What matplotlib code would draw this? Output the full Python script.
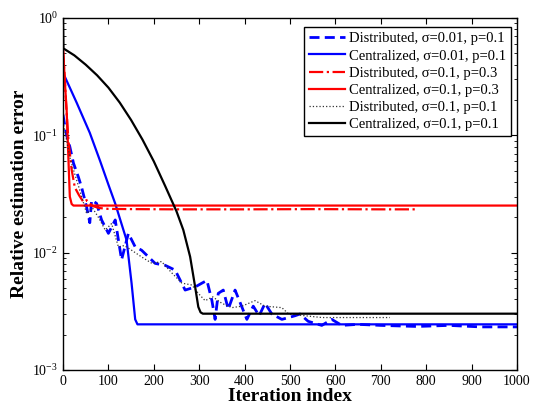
import matplotlib
matplotlib.use("Agg")
import matplotlib.pyplot as plt
from matplotlib.ticker import LogLocator, NullFormatter

plt.rcParams['font.family'] = ['Liberation Serif', 'DejaVu Serif']
plt.rcParams['mathtext.fontset'] = 'stix'

# values (iteration, relative error)
cen_001_t = [0, 4, 30, 59, 82, 100, 115, 140, 151, 159, 164, 1000]
cen_001_v = [0.33, 0.316, 0.19, 0.105, 0.060, 0.038, 0.0262, 0.0128, 0.0055, 0.0027, 0.00245, 0.00245]

dis_001_t = [0, 4, 8, 15, 23, 34, 41, 52, 59, 63, 74, 85, 100, 115, 129, 144, 159,
             173, 203, 225, 247, 269, 291, 306, 317, 328, 335, 342, 353, 364, 379,
             392, 405, 419, 432, 445, 460, 482, 497, 511, 522, 540, 570, 592, 614,
             650, 700, 780, 850, 920, 1000]
dis_001_v = [0.15, 0.12, 0.10, 0.08, 0.058, 0.044, 0.036, 0.0245, 0.018, 0.028, 0.0263, 0.019,
             0.0146, 0.019, 0.0087, 0.0146, 0.0112, 0.0105, 0.0081, 0.0078, 0.0071,
             0.0048, 0.0051, 0.0055, 0.0058, 0.0039, 0.0027, 0.0045, 0.0048, 0.0033,
             0.0048, 0.0036, 0.0027, 0.0035, 0.0029, 0.0037, 0.003, 0.0027, 0.0028,
             0.0029, 0.003, 0.0026, 0.0024, 0.0027, 0.0024, 0.00245, 0.0024, 0.00235,
             0.0024, 0.00233, 0.00233]

cen_03_t = [0, 2, 5, 8, 12, 15, 19, 23, 1000]
cen_03_v = [0.55, 0.40, 0.25, 0.164, 0.062, 0.030, 0.026, 0.0252, 0.0252]

dis_03_t = [0, 3, 7, 12, 19, 26, 35, 45, 52, 65, 80, 100, 150, 250, 400, 550, 700, 776]
dis_03_v = [0.55, 0.35, 0.18, 0.09, 0.051, 0.036, 0.031, 0.027, 0.028, 0.025, 0.0240,
            0.0236, 0.0235, 0.0234, 0.0234, 0.0235, 0.0234, 0.0234]

dis_01_t = [0, 4, 8, 15, 25, 35, 52, 65, 78, 93, 107, 122, 135, 151, 173, 196, 217,
            240, 262, 284, 298, 313, 330, 350, 372, 394, 423, 445, 482, 497, 533,
            570, 620, 680, 720]
dis_01_v = [0.13, 0.11, 0.09, 0.065, 0.048, 0.036, 0.0216, 0.024, 0.020, 0.0156, 0.0177,
            0.0112, 0.0115, 0.0105, 0.0092, 0.0081, 0.0084, 0.0067, 0.0055, 0.0053,
            0.0045, 0.0039, 0.0042, 0.0037, 0.0034, 0.0035, 0.0039, 0.0035, 0.0034,
            0.003, 0.0029, 0.0028, 0.0028, 0.0028, 0.0028]

cen_01_t = [0, 1, 25, 50, 75, 100, 125, 150, 175, 200, 225, 250, 265, 280, 291,
            298, 303, 308, 1000]
cen_01_v = [1.0, 0.55, 0.48, 0.40, 0.325, 0.255, 0.19, 0.135, 0.092, 0.060, 0.037,
            0.0225, 0.0156, 0.00923, 0.00512, 0.00345, 0.0031, 0.00302, 0.00302]

fig = plt.figure(figsize=(5.39, 4.05), dpi=100)
ax = fig.add_axes([0.1169, 0.0864, 0.8423, 0.8692])

ax.plot(dis_001_t, dis_001_v, color='#0000ff', linestyle='--', linewidth=2.0,
        dashes=(3.6, 1.9), label='Distributed, σ=0.01, p=0.1')
ax.plot(cen_001_t, cen_001_v, color='#0000ff', linestyle='-', linewidth=1.6,
        label='Centralized, σ=0.01, p=0.1')
ax.plot(dis_03_t, dis_03_v, color='#ff0000', linestyle='-.', linewidth=1.6,
        label='Distributed, σ=0.1, p=0.3')
ax.plot(cen_03_t, cen_03_v, color='#ff0000', linestyle='-', linewidth=1.6,
        label='Centralized, σ=0.1, p=0.3')
ax.plot(dis_01_t, dis_01_v, color='#333333', linestyle=':', linewidth=0.9,
        label='Distributed, σ=0.1, p=0.1')
ax.plot(cen_01_t, cen_01_v, color='black', linestyle='-', linewidth=1.6,
        label='Centralized, σ=0.1, p=0.1')

ax.set_yscale('log')
ax.set_xlim(0, 1000)
ax.set_ylim(1e-3, 1)
ax.set_xticks(range(0, 1001, 100))
ax.yaxis.set_minor_locator(LogLocator(base=10, subs=range(2, 10)))
ax.yaxis.set_minor_formatter(NullFormatter())
ax.tick_params(which='both', direction='in', top=True, right=True, labelsize=10)
ax.tick_params(which='major', length=4)
ax.tick_params(which='minor', length=2)
for s in ax.spines.values():
    s.set_linewidth(1.0)

ax.set_xlabel('Iteration index', fontsize=14, fontweight='bold', labelpad=0)
ax.set_ylabel('Relative estimation error', fontsize=14, fontweight='bold', labelpad=3)

leg = ax.legend(loc='upper right', bbox_to_anchor=(0.987, 0.974), borderaxespad=0,
                fontsize=10.5, fancybox=False, framealpha=1, edgecolor='black',
                handlelength=2.5, borderpad=0.35, labelspacing=0.27, handletextpad=0.25)
leg.get_frame().set_linewidth(1.0)

fig.savefig('out.png', dpi=100)
